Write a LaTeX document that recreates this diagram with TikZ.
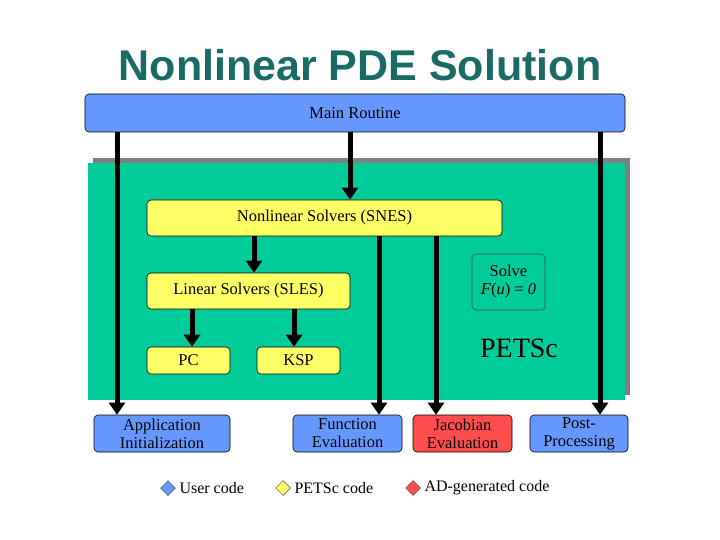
\documentclass[tikz,border=0pt]{standalone}
\usepackage{fontspec}
\setmainfont{Liberation Serif}
\newfontfamily\titlefont{Liberation Sans}
\newfontfamily\boxfont{Liberation Serif}
\usetikzlibrary{arrows.meta,shapes.geometric}
\definecolor{ublue}{HTML}{6699FF}
\definecolor{pyel}{HTML}{FFFF66}
\definecolor{adred}{HTML}{FF4D4D}
\definecolor{pgreen}{HTML}{00CC99}
\definecolor{ttl}{HTML}{1A6B66}
\begin{document}
\begin{tikzpicture}[x=1pt,y=-1pt,
  box/.style={draw=black,rounded corners=4pt,line width=0.6pt,inner sep=0pt,align=center,font=\boxfont\fontsize{16.5}{18}\selectfont},
  arr/.style={line width=5pt,-{Triangle[length=12pt,width=16pt]}},
  dia/.style={diamond,draw=black!70,inner sep=0pt,minimum size=15pt,line width=0.5pt},
  leg/.style={anchor=west,font=\boxfont\fontsize{16}{18}\selectfont}]
\useasboundingbox (0,0) rectangle (720,540);
\fill[white] (0,0) rectangle (720,540);
\node[font=\titlefont\bfseries\fontsize{43}{45}\selectfont,text=ttl] (title) at (360,65) {Nonlinear PDE Solution};
\fill[gray] (93,158) rectangle (630,395);
\fill[pgreen] (88,163) rectangle (625,400);
\node[box,fill=ublue,minimum width=540pt,minimum height=38pt] (main) at (355,113) {Main Routine};
\node[box,fill=pyel,minimum width=355pt,minimum height=36pt] (snes) at (324.5,218) {Nonlinear Solvers (SNES)};
\node[box,fill=pyel,minimum width=203pt,minimum height=36pt] (sles) at (248.5,291) {Linear Solvers (SLES)};
\node[box,fill=pyel,minimum width=83pt,minimum height=27pt] (pc) at (188.5,360.5) {PC};
\node[box,fill=pyel,minimum width=83pt,minimum height=27pt] (ksp) at (298.5,360.5) {KSP};
\node[box,draw=black!70,minimum width=73pt,minimum height=56pt] (solve) at (508.5,282) {Solve\\\textit{F}(\textit{u}) = \textit{0}};
\node[font=\boxfont\fontsize{28}{30}\selectfont] (petsc) at (519,348) {PETSc};
\node[box,fill=ublue,minimum width=136pt,minimum height=37pt] (app) at (162,433.5) {Application\\Initialization};
\node[box,fill=ublue,minimum width=109pt,minimum height=37pt] (fun) at (347.5,433.5) {Function\\Evaluation};
\node[box,fill=adred,minimum width=99pt,minimum height=37pt] (jac) at (462.5,433.5) {Jacobian\\Evaluation};
\node[box,fill=ublue,minimum width=98pt,minimum height=37pt] (post) at (579,433.5) {Post-\\Processing};
\draw[arr] (main.south -| 117,0) -- (app.north -| 117,0);
\draw[arr] (main.south -| 350,0) -- (snes.north -| 350,0);
\draw[arr] (snes.south -| 254,0) -- (sles.north -| 254,0);
\draw[arr] (sles.south -| 192,0) -- (pc.north -| 192,0);
\draw[arr] (sles.south -| 294,0) -- (ksp.north -| 294,0);
\draw[arr] (snes.south -| 379,0) -- (fun.north -| 379,0);
\draw[arr] (snes.south -| 436,0) -- (jac.north -| 436,0);
\draw[arr] (main.south -| 600,0) -- (post.north -| 600,0);
\node[dia,fill=ublue] (d1) at (168,488) {};
\node[leg] (t1) at (176,488) {User code};
\node[dia,fill=pyel] (d2) at (283,488) {};
\node[leg] (t2) at (291,488) {PETSc code};
\node[dia,fill=adred] (d3) at (413,488) {};
\node[leg] (t3) at (421,488) {AD-generated code};
\end{tikzpicture}
\end{document}
